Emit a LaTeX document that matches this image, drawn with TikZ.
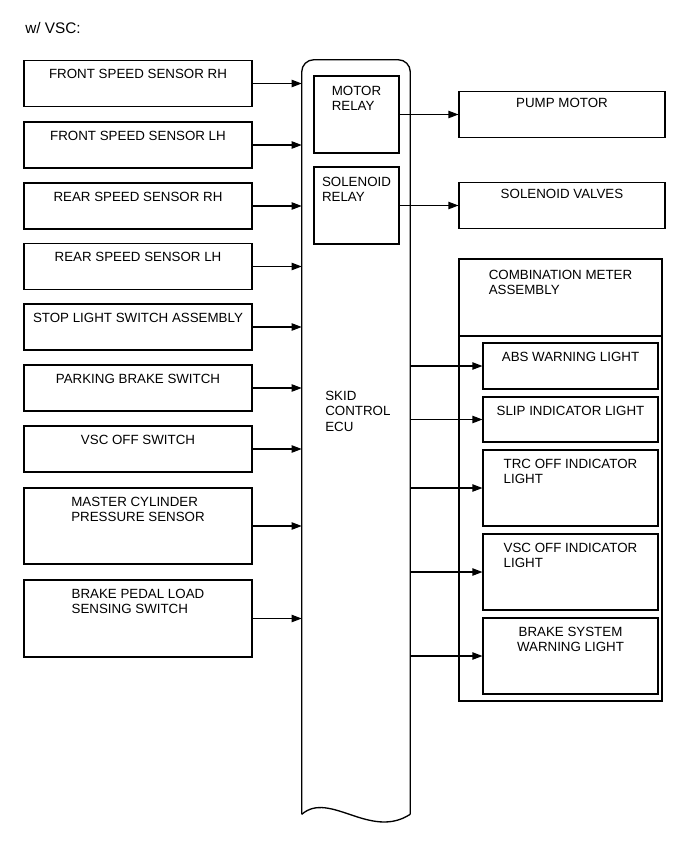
\documentclass[tikz,border=0pt]{standalone}
\usepackage{fontspec}
\setmainfont{Liberation Sans}
\usetikzlibrary{arrows.meta}

\tikzstyle{unit} = [draw,line width=0.8pt,inner sep=0pt]
\tikzstyle{sensor} = [unit,minimum width=171pt,minimum height=34.5pt]
\tikzstyle{relay} = [unit,minimum width=63.75pt,minimum height=57.75pt]
\tikzstyle{load} = [unit,minimum width=154.5pt,minimum height=35pt]
\tikzstyle{lamp} = [unit,minimum width=131.25pt,minimum height=34.5pt]
\tikzstyle{caption} = [anchor=north,inner sep=0pt,align=left,font=\fontsize{10}{11.5}\selectfont]
\tikzstyle{edge} = [draw,line width=0.8pt,-{Triangle[length=7.5pt,width=5.5pt]}]

\begin{document}
\begin{tikzpicture}[x=0.75pt,y=-0.75pt]
  \useasboundingbox (0,0) rectangle (689,853);
  \node[anchor=north west,inner sep=0pt,font=\fontsize{11.5}{13}\selectfont] (title) at (25,22) {w/ VSC:};

  % skid control ecu
  \node[minimum width=81pt,minimum height=565.5pt,inner sep=0pt] (ecu) at (356,437) {};
  \draw[line width=1pt,rounded corners=9pt] (ecu.south west) -- (ecu.north west) -- (ecu.north east) -- (ecu.south east);
  \draw[line width=1pt] (ecu.south west) .. controls +(28,-24) and +(-40,26) .. (ecu.south east);
  \node[caption,anchor=north west] (ecu-t) at (325,391) {SKID\\CONTROL\\ECU};

  % inputs
  \foreach \pos/\h/\name/\txt in {{(138,83.5)/34.5pt/fsrh/FRONT SPEED SENSOR RH},
      {(138,145)/34.5pt/fslh/FRONT SPEED SENSOR LH}, {(138,206)/34.5pt/rsrh/REAR SPEED SENSOR RH},
      {(138,266.5)/34.5pt/rslh/REAR SPEED SENSOR LH}, {(138,327)/34.5pt/stop/STOP LIGHT SWITCH ASSEMBLY},
      {(138,388)/34.5pt/park/PARKING BRAKE SWITCH}, {(138,449)/34.5pt/vscsw/VSC OFF SWITCH},
      {(138,526)/57pt/mcyl/MASTER CYLINDER\\PRESSURE SENSOR},
      {(138,618.5)/57.75pt/pedal/BRAKE PEDAL LOAD\\SENSING SWITCH}}
  {
     \node[sensor,minimum height=\h] (\name) at \pos {};
     \node[caption] (\name-t) at ([yshift=-7pt]\name.north) {\txt};
     \path[edge] (\name) -- (\name -| ecu.west);
  }

  % relays and outputs
  \foreach \pos/\name/\txt in {{(356.5,114.5)/mrelay/MOTOR\\RELAY}, {(356.5,205.5)/srelay/SOLENOID\\RELAY}}
  {
     \node[relay] (\name) at \pos {};
     \node[caption] (\name-t) at ([yshift=-7.5pt]\name.north) {\txt};
  }
  \foreach \pos/\name/\txt in {{(562,114.5)/pump/PUMP MOTOR}, {(562,205.5)/valves/SOLENOID VALVES}}
  {
     \node[load] (\name) at \pos {};
     \node[caption] (\name-t) at ([yshift=-5.5pt]\name.north) {\txt};
  }
  \foreach \source/ \dest in {mrelay/pump, srelay/valves}
  \path[edge] (\source) -- (\dest);

  % combination meter
  \node[unit,minimum width=152.25pt,minimum height=331.5pt] (meter) at (560.5,480) {};
  \coordinate (split) at (0,336);
  \draw[line width=0.8pt] (meter.west |- split) -- (meter.east |- split);
  \node[caption] (meter-t) at ([yshift=-8.5pt]meter.north) {COMBINATION METER\\ASSEMBLY};

  \foreach \pos/\h/\name/\txt in {{(570.5,366)/34.5pt/abs/ABS WARNING LIGHT},
      {(570.5,419.5)/33.75pt/slip/SLIP INDICATOR LIGHT}, {(570.5,488)/57pt/trc/TRC OFF INDICATOR\\LIGHT},
      {(570.5,572)/57pt/vscind/VSC OFF INDICATOR\\LIGHT}}
  {
     \node[lamp,minimum height=\h] (\name) at \pos {};
     \node[caption] (\name-t) at ([yshift=-7pt]\name.north) {\txt};
     \path[edge] (\name -| ecu.east) -- (\name);
  }
  \node[lamp,minimum height=57pt] (brake) at (570.5,656) {};
  \node[caption,align=center] (brake-t) at ([yshift=-7pt]brake.north) {BRAKE SYSTEM\\WARNING LIGHT};
  \path[edge] (brake -| ecu.east) -- (brake);
\end{tikzpicture}
\end{document}
